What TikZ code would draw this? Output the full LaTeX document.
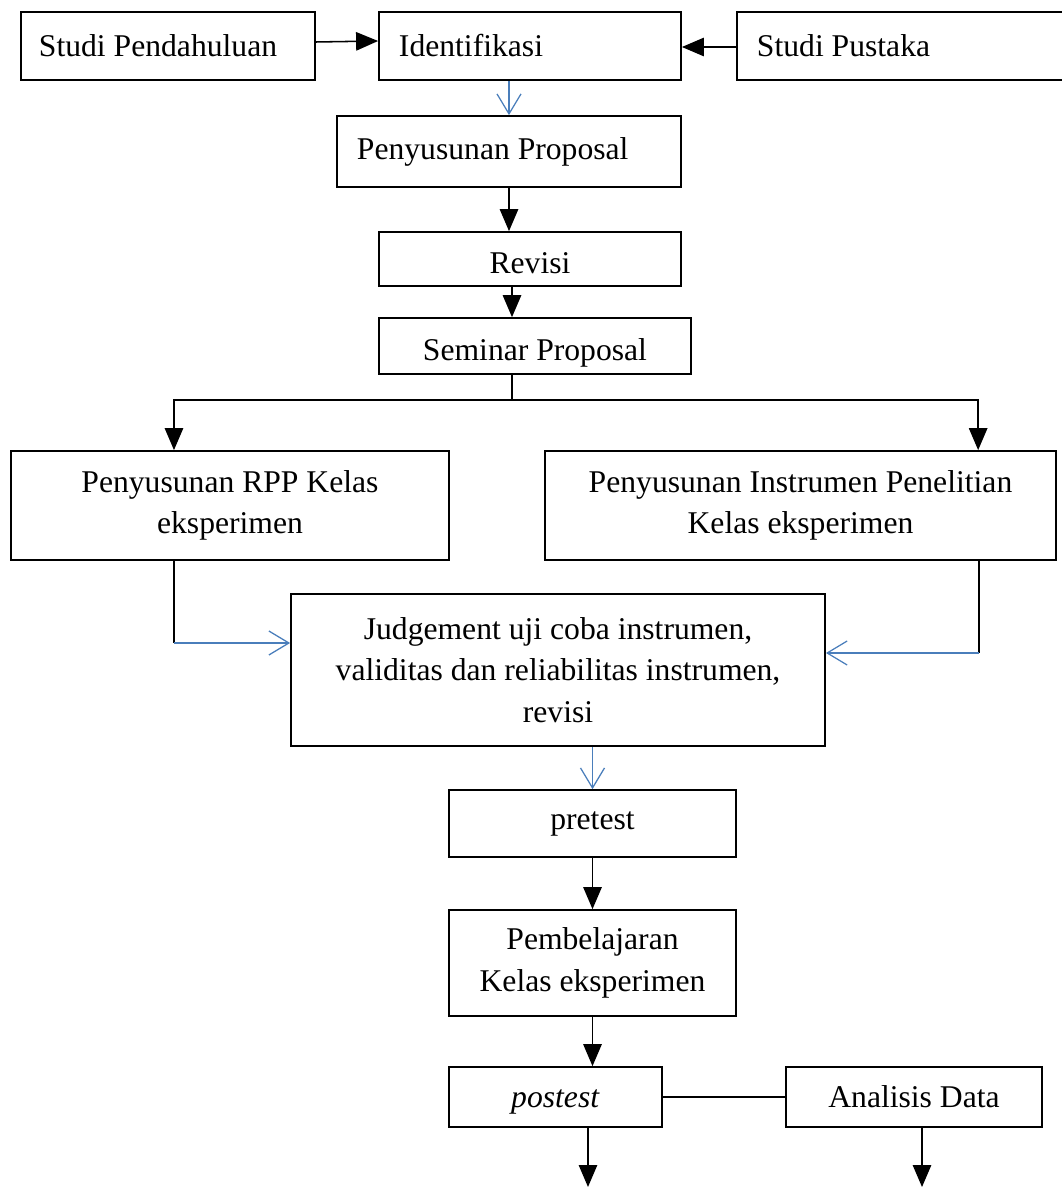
\documentclass[tikz,border=0pt]{standalone}
\usepackage{fontspec}
\setmainfont{Liberation Serif}
\usetikzlibrary{arrows.meta,calc}
\definecolor{lineblue}{HTML}{4A7EBB}

\begin{document}
\begin{tikzpicture}[x=0.025cm,y=-0.025cm]
  \tikzset{box/.style={draw,line width=1.2pt,inner xsep=0.45cm,inner ysep=0.05cm,font=\fontsize{22.5}{29.5}\selectfont},
           low/.style={text height=22pt,text depth=2pt},
           arr/.style={-{Triangle[length=0.55cm,width=0.46cm]},line width=1.1pt},
           barr/.style={-{Straight Barb[length=0.5cm,width=0.6cm]},lineblue,line width=0.9pt}}
  \useasboundingbox (0,0) rectangle (1062,1187);
  \node(sp)[box,text width=6.45cm,minimum height=1.7cm,align=flush left] at (168,46) {Studi Pendahuluan};
  \node(id)[box,inner xsep=0.5cm,text width=6.55cm,minimum height=1.7cm,align=flush left] at (530,46) {Identifikasi};
  \node(pu)[box,inner xsep=0.5cm,text width=7.325cm,minimum height=1.7cm,align=flush left] at (903.5,46) {Studi Pustaka};
  \node(pp)[box,inner xsep=0.5cm,text width=7.6cm,minimum height=1.775cm,align=flush left] at (509,151.5) {Penyusunan Proposal};
  \node(rv)[box,low,text width=6.65cm,minimum height=1.35cm,align=flush center] at (530,259) {Revisi};
  \node(sm)[box,low,text width=6.9cm,minimum height=1.4cm,align=flush center] at (535,346) {Seminar Proposal};
  \node(rpp)[box,text width=10.05cm,minimum height=2.725cm,align=flush center] at (230,505.5) {Penyusunan RPP Kelas\\eksperimen};
  \node(ins)[box,text width=11.875cm,minimum height=2.725cm,align=flush center] at (800.5,505.5) {Penyusunan Instrumen Penelitian\\Kelas eksperimen};
  \node(jd)[box,text width=12.45cm,minimum height=3.8cm,align=flush center] at (558,670) {Judgement uji coba instrumen,\\validitas dan reliabilitas instrumen,\\revisi};
  \node(pre)[box,text width=6.275cm,minimum height=1.675cm,align=flush center] at (592.5,823.5) {pretest};
  \node(pb)[box,text width=6.275cm,minimum height=2.65cm,align=flush center] at (592.5,963) {Pembelajaran\\Kelas eksperimen};
  \node(post)[box,text height=19pt,text depth=4.5pt,text width=4.425cm,minimum height=1.5cm,align=flush center] at (555.5,1097) {\textit{postest}};
  \node(ad)[box,text width=5.5cm,minimum height=1.5cm,align=flush center] at (914,1097) {Analisis Data};
  % top row
  \draw[arr] ([yshift=0.1cm]sp.east) -- ([yshift=0.125cm]id.west);
  \draw[arr] ([yshift=-0.025cm]pu.west) -- ([yshift=-0.025cm]id.east);
  \draw[barr] (pp.north |- id.south) -- (pp.north);
  \draw[arr] (pp.south) -- (pp.south |- rv.north);
  \draw[arr] ([xshift=-0.45cm]rv.south) -- ([xshift=-0.45cm]rv.south |- sm.north);
  % split after seminar
  \coordinate (split) at (512,400);
  \draw[line width=1.1pt] (split |- sm.south) -- (split);
  \draw[arr] (split) -| ([xshift=-1.4cm]rpp.north);
  \draw[arr] (split) -| ([xshift=4.44cm]ins.north);
  % into judgement
  \coordinate (ca) at (174,643);
  \coordinate (cb) at (979,653);
  \draw[line width=1.1pt] (ca |- rpp.south) -- (ca);
  \draw[barr] (ca) -- (ca -| jd.west);
  \draw[line width=1.1pt] (cb |- ins.south) -- (cb);
  \draw[barr] (cb) -- (cb -| jd.east);
  \draw[barr] (pre.north |- jd.south) -- (pre.north);
  \draw[arr] (pre.south) -- (pb.north);
  \draw[arr] (pb.south) -- (pb.south |- post.north);
  \draw[line width=1.1pt] (post.east) -- (ad.west);
  \coordinate (ea) at (588,1187);
  \coordinate (eb) at (922,1187);
  \draw[arr] (ea |- post.south) -- (ea);
  \draw[arr] (eb |- ad.south) -- (eb);
\end{tikzpicture}
\end{document}
